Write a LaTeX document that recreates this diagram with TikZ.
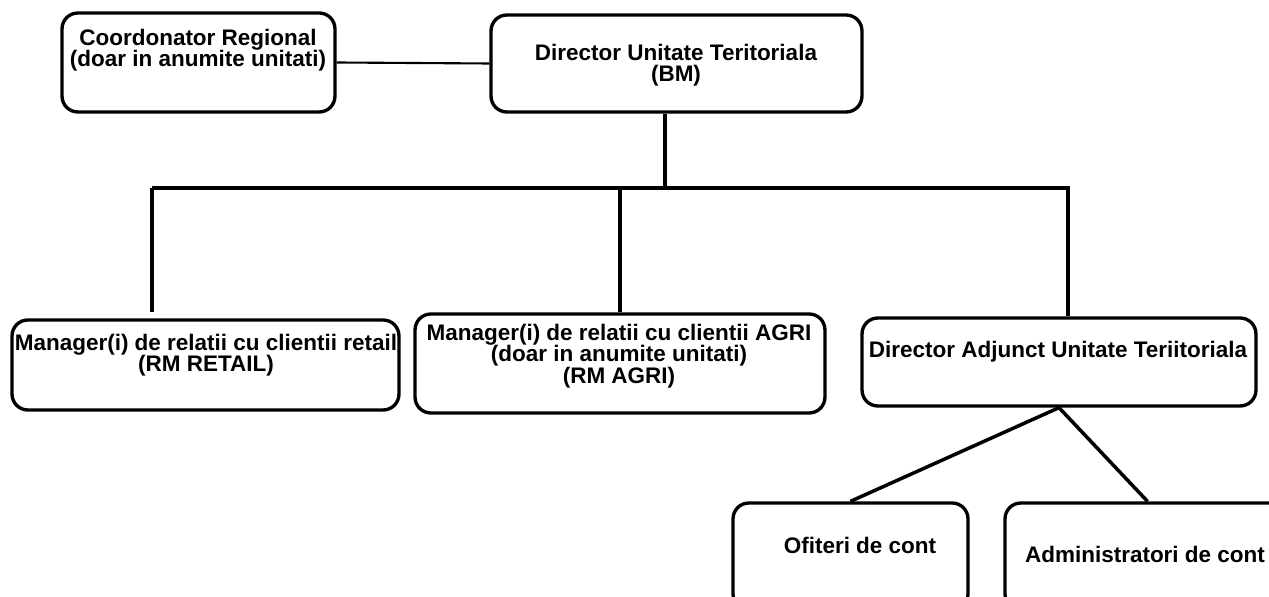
\documentclass[tikz,border=0pt]{standalone}
\usepackage{fontspec}
\setmainfont{Liberation Sans}
\usetikzlibrary{calc}

\begin{document}
\begin{tikzpicture}[x=0.02cm,y=-0.02cm,
    orgbox/.style={draw=black,line width=1.9pt,rounded corners=9pt,minimum width=#1,inner sep=0pt},
    orglbl/.style={align=center,inner sep=0pt,font=\fontsize{12.8}{12.3}\selectfont\bfseries},
    link/.style={draw=black,line width=2pt}]
  \useasboundingbox[fill=white] (0,0) rectangle (1269,597);
  % boxes
  \node[orgbox=5.46cm,minimum height=1.98cm] (coord) at (198.5,62.5) {};
  \node[orgbox=7.42cm,minimum height=1.94cm] (dir) at (676.5,63.5) {};
  \node[orgbox=7.74cm,minimum height=1.80cm] (ret) at (205.5,365) {};
  \node[orgbox=8.20cm,minimum height=1.98cm] (agri) at (620,363.5) {};
  \node[orgbox=7.88cm,minimum height=1.76cm] (dadj) at (1059,362) {};
  \node[orgbox=4.70cm,minimum height=2.14cm] (ofit) at (850.5,556.5) {};
  \node[orgbox=5.70cm,minimum height=2.14cm] (adm) at (1147.5,556.5) {};
  % texts
  \node[orglbl] (coordlbl) at (198,50) {Coordonator Regional\\(doar in anumite unitati)};
  \node[orglbl] (dirlbl) at (676,65) {Director Unitate Teritoriala\\(BM)};
  \node[orglbl] (retlbl) at (206,355) {Manager(i) de relatii cu clientii retail\\(RM RETAIL)};
  \node[orglbl] (agrilbl) at (619,356) {Manager(i) de relatii cu clientii AGRI\\(doar in anumite unitati)\\(RM AGRI)};
  \node[orglbl] (dadjlbl) at (1058,352) {Director Adjunct Unitate Teriitoriala};
  \node[orglbl] (ofitlbl) at (860,545) {Ofiteri de cont};
  \node[orglbl] (admlbl) at (1145,554) {Administratori de cont};
  % connectors
  \coordinate (bm) at (665,188);
  \coordinate (busL) at (152,188);
  \coordinate (busR) at (1068,188);
  \draw[link,line width=1.2pt] (coord.east) -- (dir.west);
  \draw[link] (dir.south -| bm) -- (bm);
  \draw[link] (busL) -- (busR);
  \draw[link,shorten >=0.12cm] (busL) -- (busL |- ret.north);
  \draw[link] (agri.north |- busL) -- (agri.north);
  \draw[link] ([yshift=0.04cm]busR) -- (busR |- dadj.north);
  \draw[link] (dadj.south) -- (ofit.north);
  \draw[link] (dadj.south) -- (adm.north);
\end{tikzpicture}
\end{document}
